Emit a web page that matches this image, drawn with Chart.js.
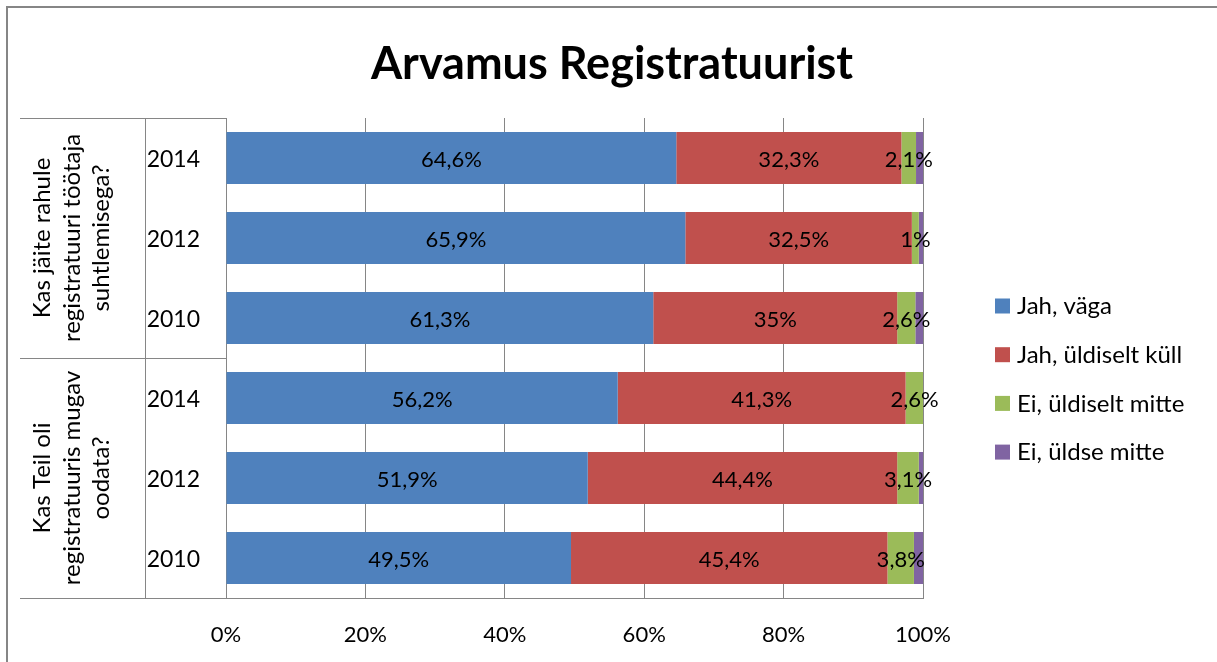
<!DOCTYPE html>
<html>
<head>
<meta charset="utf-8">
<script src="https://cdn.jsdelivr.net/npm/chart.js@4.4.1/dist/chart.umd.min.js"></script>
<style>
  html, body { margin: 0; padding: 0; background: #fff; }
  #wrap { position: relative; width: 1217px; height: 662px; }
</style>
</head>
<body>
<div id="wrap"><canvas id="c" width="1217" height="662"></canvas></div>
<script>
const titleText = 'Arvamus Registratuurist';
const years = ['2014', '2012', '2010', '2014', '2012', '2010'];
const groups = [
  ['Kas jäite rahule', 'registratuuri töötaja', 'suhtlemisega?'],
  ['Kas Teil oli', 'registratuuris mugav', 'oodata?']
];
const seriesNames = ['Jah, väga', 'Jah, üldiselt küll', 'Ei, üldiselt mitte', 'Ei, üldse mitte'];
const jahVaga = [64.6, 65.9, 61.3, 56.2, 51.9, 49.5];
const jahUldiseltKull = [32.3, 32.5, 35, 41.3, 44.4, 45.4];
const eiUldiseltMitte = [2.1, 1, 2.6, 2.6, 3.1, 3.8];
const eiUldseMitte = [1.0, 0.6, 1.1, 0, 0.6, 1.3];
const xTicks = [0, 20, 40, 60, 80, 100];
const colors = ['#4F81BD', '#C0504D', '#9BBB59', '#8064A2'];
const showLabels = [true, true, true, false];

const FONT = 'Lato, Carlito, Calibri, "Open Sans", sans-serif';
const GRID = '#868686';

function fmt(v) {
  return String(v).replace('.', ',') + '%';
}

const decor = {
  id: 'decor',
  beforeDraw(chart) {
    const ctx = chart.ctx;
    ctx.save();
    ctx.strokeStyle = GRID;
    ctx.lineWidth = 2;
    ctx.strokeRect(7, 7, 1217 + 20, 662 + 20);
    // title
    ctx.fillStyle = '#000';
    ctx.font = 'bold 45px ' + FONT;
    ctx.textAlign = 'center';
    ctx.textBaseline = 'alphabetic';
    ctx.fillText(titleText, 612, 79);
    ctx.restore();
  },
  afterDraw(chart) {
    const ctx = chart.ctx;
    const ca = chart.chartArea;
    const y = chart.scales.y;
    // data labels
    ctx.save();
    ctx.font = '22px ' + FONT;
    ctx.fillStyle = '#000';
    ctx.textAlign = 'center';
    ctx.textBaseline = 'middle';
    chart.data.datasets.forEach((ds, di) => {
      if (!showLabels[di]) return;
      const meta = chart.getDatasetMeta(di);
      meta.data.forEach((bar, i) => {
        const v = ds.data[i];
        if (!v) return;
        const cx = (bar.x + bar.base) / 2;
        ctx.fillText(fmt(v), cx, bar.y + 2);
      });
    });
    ctx.restore();

    // table lines in the category area
    ctx.save();
    ctx.strokeStyle = GRID;
    ctx.lineWidth = 1;
    const left = 20;
    const half = (y.getPixelForValue(2) + y.getPixelForValue(3)) / 2;
    const yTop = ca.top, yBot = ca.bottom;
    ctx.beginPath();
    [yTop, half, yBot].forEach(py => {
      ctx.moveTo(left, Math.round(py) + 0.5);
      ctx.lineTo(ca.left, Math.round(py) + 0.5);
    });
    ctx.moveTo(145.5, yTop);
    ctx.lineTo(145.5, yBot);
    ctx.stroke();

    // group labels rotated
    ctx.fillStyle = '#000';
    ctx.font = '24px ' + FONT;
    ctx.textAlign = 'center';
    ctx.textBaseline = 'alphabetic';
    const centers = [(yTop + half) / 2, (half + yBot) / 2];
    const baselines = [50, 80, 109];
    groups.forEach((lines, gi) => {
      lines.forEach((t, li) => {
        ctx.save();
        ctx.translate(baselines[li], centers[gi]);
        ctx.rotate(-Math.PI / 2);
        ctx.fillText(t, 0, 0);
        ctx.restore();
      });
    });

    // legend
    const lx = 995, ly0 = 305.5, step = 48.7;
    ctx.font = '24px ' + FONT;
    ctx.textAlign = 'left';
    ctx.textBaseline = 'middle';
    seriesNames.forEach((n, i) => {
      const ly = ly0 + i * step;
      ctx.fillStyle = colors[i];
      ctx.fillRect(lx, ly - 7, 15, 15);
      ctx.fillStyle = '#000';
      ctx.fillText(n, lx + 22, ly + 1);
    });
    ctx.restore();
  }
};

new Chart(document.getElementById('c'), {
  type: 'bar',
  data: {
    labels: years,
    datasets: seriesNames.map((n, i) => ({
      label: n,
      data: [jahVaga, jahUldiseltKull, eiUldiseltMitte, eiUldseMitte][i],
      backgroundColor: colors[i],
      borderWidth: 0,
      categoryPercentage: 1,
      barPercentage: 0.65
    }))
  },
  options: {
    indexAxis: 'y',
    responsive: false,
    animation: false,
    devicePixelRatio: 1,
    layout: { padding: { left: 0, right: 294, top: 118, bottom: 0 } },
    plugins: {
      legend: { display: false },
      tooltip: { enabled: false },
      title: { display: false }
    },
    scales: {
      x: {
        stacked: true,
        min: 0,
        max: 100,
        afterBuildTicks(scale) { scale.ticks = xTicks.map(v => ({ value: v })); },
        afterFit(scale) { scale.height = 64; },
        ticks: {
          color: '#000',
          font: { family: FONT, size: 22 },
          padding: 24,
          maxRotation: 0,
          callback: v => v + '%'
        },
        grid: { color: GRID, drawTicks: false, lineWidth: 1 },
        border: { color: GRID, width: 1 }
      },
      y: {
        stacked: true,
        afterFit(scale) { scale.width = 226; },
        ticks: {
          color: '#000',
          font: { family: FONT, size: 23 },
          padding: 26,
          labelOffset: 2
        },
        grid: { display: false, drawTicks: false },
        border: { color: GRID, width: 1 }
      }
    }
  },
  plugins: [decor]
});
</script>
</body>
</html>
